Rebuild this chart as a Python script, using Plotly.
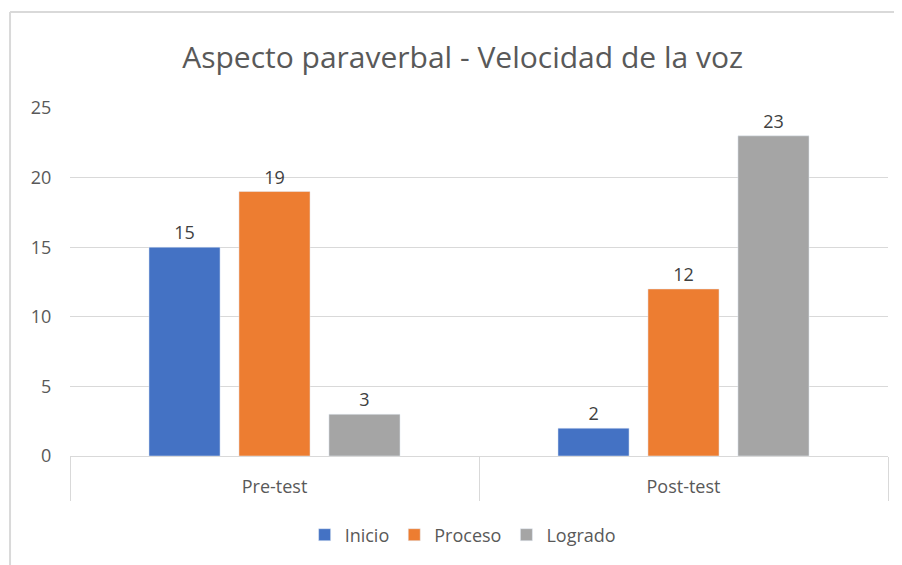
import plotly.graph_objects as go

categories = ["Pre-test", "Post-test"]
inicio = [15, 2]
proceso = [19, 12]
logrado = [3, 23]

series = [
    ("Inicio", inicio, "#4472C4"),
    ("Proceso", proceso, "#ED7D31"),
    ("Logrado", logrado, "#A5A5A5"),
]

font_family = "Open Sans, Liberation Sans, sans-serif"

fig = go.Figure()
for name, vals, color in series:
    fig.add_trace(
        go.Bar(
            name=name,
            x=categories,
            y=vals,
            marker_color=color,
            text=vals,
            textposition="outside",
            textfont=dict(size=18, color="#404040"),
            cliponaxis=False,
        )
    )

# invisible trace on a second category axis, only used to draw the
# Excel-style divider ticks between categories
fig.add_trace(
    go.Scatter(
        x=categories,
        y=[0, 0],
        xaxis="x2",
        mode="markers",
        marker=dict(opacity=0),
        showlegend=False,
        hoverinfo="skip",
    )
)

fig.update_layout(
    width=902,
    height=565,
    paper_bgcolor="white",
    plot_bgcolor="white",
    font=dict(family=font_family, color="#595959"),
    title=dict(
        text="Aspecto paraverbal - Velocidad de la voz",
        x=0.504,
        xanchor="center",
        y=0.913,
        yanchor="middle",
        font=dict(size=30, color="#595959"),
    ),
    barmode="group",
    bargap=0.34,
    bargroupgap=0.21,
    margin=dict(l=62, r=22, t=100, b=117),
    legend=dict(
        orientation="h",
        x=0.48,
        xanchor="center",
        y=-0.227,
        yanchor="middle",
        font=dict(size=18, color="#595959"),
        itemwidth=30,
    ),
    showlegend=True,
)

fig.update_yaxes(
    range=[0, 25],
    dtick=5,
    showgrid=True,
    gridcolor="#D9D9D9",
    gridwidth=1,
    zeroline=False,
    showline=False,
    ticks="outside",
    ticklen=14,
    tickcolor="rgba(0,0,0,0)",
    tickfont=dict(size=18, color="#595959"),
)

fig.update_layout(
    xaxis=dict(
        showline=True,
        linecolor="#D9D9D9",
        linewidth=1,
        ticks="",
        ticklabelstandoff=14,
        tickfont=dict(size=18, color="#595959"),
    ),
    xaxis2=dict(
        overlaying="x",
        anchor="y",
        side="bottom",
        type="category",
        categoryarray=categories,
        range=[-0.5, 1.5],
        showgrid=False,
        showline=False,
        showticklabels=False,
        ticks="outside",
        tickson="boundaries",
        ticklen=44,
        tickcolor="#D9D9D9",
        tickwidth=1,
    ),
)

# outer chart border (top and left edges visible in the crop)
border = dict(color="#D9D9D9", width=2)
fig.add_shape(type="line", xref="paper", yref="paper",
              x0=-0.0733, x1=1.05, y0=1.2759, y1=1.2759, line=border)
fig.add_shape(type="line", xref="paper", yref="paper",
              x0=-0.0733, x1=-0.0733, y0=1.2759, y1=-0.35, line=border)

fig.write_html("out.html")
